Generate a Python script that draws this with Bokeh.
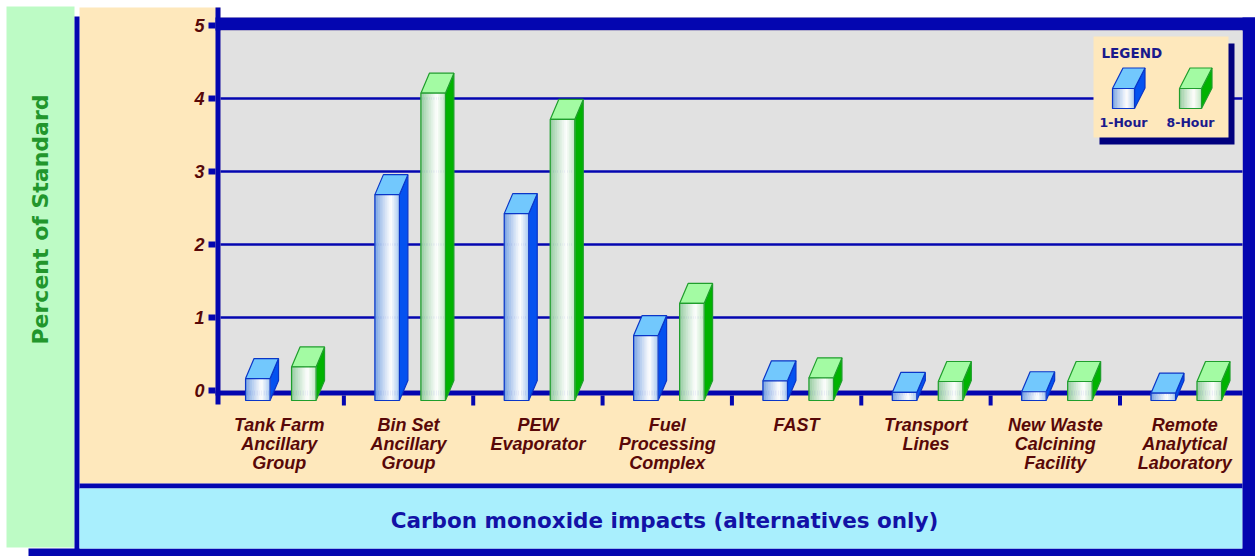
import math
from bokeh.plotting import figure
from bokeh.models import Range1d
from bokeh.core.properties import value
from bokeh.embed import file_html
from bokeh.resources import INLINE

# ---------------- data ----------------
categories = [
    "Tank Farm\nAncillary\nGroup",
    "Bin Set\nAncillary\nGroup",
    "PEW\nEvaporator",
    "Fuel\nProcessing\nComplex",
    "FAST",
    "Transport\nLines",
    "New Waste\nCalcining\nFacility",
    "Remote\nAnalytical\nLaboratory",
]
one_hour = [0.30, 2.82, 2.56, 0.89, 0.27, 0.11, 0.12, 0.10]
eight_hour = [0.46, 4.21, 3.85, 1.33, 0.31, 0.26, 0.26, 0.26]
series_names = ["1-Hour", "8-Hour"]
y_ticks = [0, 1, 2, 3, 4, 5]
y_title = "Percent of Standard"
x_title = "Carbon monoxide impacts (alternatives only)"
legend_title = "LEGEND"

# ---------------- canvas geometry (pixels, origin top-left) ----------------
W, H = 1255, 556
CAT0_PX, CAT_PX = 278.7, 129.35     # centre of first category, width of one category
ZERO_PX, UNIT_PX = 390.0, 73.0      # value-axis baseline, pixels per percent


def X(px):
    return (px - CAT0_PX) / CAT_PX


def Y(py):
    return (ZERO_PX - py) / UNIT_PX


NAVY = "#0406b0"
MAROON = "#580808"

p = figure(
    width=W, height=H,
    x_range=Range1d(X(0), X(W)), y_range=Range1d(Y(H), Y(0)),
    x_axis_type=None, y_axis_type=None,
    toolbar_location=None, output_backend="svg",
    min_border=0, outline_line_color=None,
    background_fill_color="white", border_fill_color="white",
)


def panel(l, t, r, b, color):
    p.quad(left=X(l), right=X(r), top=Y(t), bottom=Y(b),
           fill_color=color, line_color=None)


# ---------------- background panels ----------------
panel(6, 6, 74, 547, "#bdfbc5")          # side title panel
panel(79, 7, 1242, 483, "#fee8bc")       # chart panel
panel(220, 0, 1255, 17, "white")
panel(74, 16, 79, 556, NAVY)
panel(28, 548, 1255, 556, NAVY)
panel(79, 483, 1242, 488, NAVY)
panel(79, 488, 1242, 548, "#a9effd")     # bottom title panel
panel(1242, 17, 1255, 556, NAVY)
panel(215, 17, 1255, 30, NAVY)
panel(220, 30, 1242, 390, "#e1e1e1")     # plot wall

# grid lines
grid_vals = [v for v in y_ticks if 0 < v < max(y_ticks)]
p.segment(x0=[X(220)] * len(grid_vals), x1=[X(1242)] * len(grid_vals),
          y0=grid_vals, y1=grid_vals, line_color=NAVY, line_width=2.5)

# x axis line and category separators
panel(215, 390, 1242, 395, NAVY)
seps = [i + 0.5 for i in range(len(categories) - 1)]
p.rect(x=seps, y=[Y(400)] * len(seps), width=4, height=10,
       width_units="screen", height_units="screen",
       fill_color=NAVY, line_color=None)

# y axis line and ticks
panel(215, 7, 220, 404, NAVY)
p.rect(x=[X(211.5)] * len(y_ticks), y=y_ticks, width=7, height=6,
       width_units="screen", height_units="screen",
       fill_color=NAVY, line_color=None)

# ---------------- 3-D bars ----------------
BAR_W = 24.5 / CAT_PX
DX, DY = 8.5 / CAT_PX, 20.0 / UNIT_PX
OFFSETS = [-21.4 / CAT_PX, 24.6 / CAT_PX]

STYLES = [
    dict(edge="#0a36c8", top="#72c8fd", side="#0452f0", shade=(108, 155, 224), rim=(170, 202, 240)),
    dict(edge="#1f9e2c", top="#a3fba3", side="#00b300", shade=(140, 200, 152), rim=(192, 230, 196)),
]
N_STRIPS = 14


def mix(c, w):
    r, g, b = (int(round(ch + (255 - ch) * w)) for ch in c)
    return "#%02x%02x%02x" % (r, g, b)


def shade_at(style, t):
    peak = 0.66
    if t <= peak:
        w = (t / peak) ** 0.85
        return mix(style["shade"], w)
    w = 1 - (t - peak) / (1 - peak)
    return mix(style["rim"], w)


def draw_boxes(lefts, rights, bottoms, tops, dx, dy, style, lw=1.2):
    side_xs, side_ys, top_xs, top_ys = [], [], [], []
    sl, sr, sb, st, sc = [], [], [], [], []
    for l, r, b, t in zip(lefts, rights, bottoms, tops):
        side_xs.append([r, r + dx, r + dx, r])
        side_ys.append([b, b + dy, t + dy, t])
        top_xs.append([l, r, r + dx, l + dx])
        top_ys.append([t, t, t + dy, t + dy])
        step = (r - l) / N_STRIPS
        for k in range(N_STRIPS):
            col = shade_at(style, (k + 0.5) / N_STRIPS)
            sl.append(l + k * step)
            sr.append(l + (k + 1) * step)
            sb.append(b)
            st.append(t)
            sc.append(col)
    p.patches(side_xs, side_ys, fill_color=style["side"], line_color=style["edge"], line_width=lw)
    p.patches(top_xs, top_ys, fill_color=style["top"], line_color=style["edge"], line_width=lw)
    p.quad(left=sl, right=sr, bottom=sb, top=st, fill_color=sc, line_color=sc, line_width=0.6)
    p.quad(left=lefts, right=rights, bottom=bottoms, top=tops,
           fill_color=None, line_color=style["edge"], line_width=lw)


for vals, off, style in zip([one_hour, eight_hour], OFFSETS, STYLES):
    centers = [i + off for i in range(len(vals))]
    draw_boxes(
        [c - BAR_W / 2 for c in centers],
        [c + BAR_W / 2 for c in centers],
        [-DY / 2] * len(vals),
        [v - DY / 2 for v in vals],
        DX, DY, style,
    )

# ---------------- legend ----------------
panel(1099, 43, 1234, 144, "#00007e")
panel(1093, 36, 1228, 137, "#fee8bc")
for (fl, fr), style in zip([(1112, 1134), (1179, 1201)], STYLES):
    draw_boxes([X(fl)], [X(fr)], [Y(108)], [Y(88)],
               10.5 / CAT_PX, 20.5 / UNIT_PX, style, lw=1.2)

HAND = value("DejaVu Sans")
p.text(x=[X(1101)], y=[Y(52)], text=[legend_title], text_font=HAND,
       text_font_style="bold", text_font_size="13.5px", text_color="#1a1a8c",
       text_align="left", text_baseline="middle")
p.text(x=[X(1123), X(1190)], y=[Y(122)] * 2, text=series_names, text_font=HAND,
       text_font_style="bold", text_font_size="12.5px", text_color="#1a1a8c",
       text_align="center", text_baseline="middle")

# ---------------- labels ----------------
LABEL_FONT = value("Liberation Sans")
p.text(x=[X(204)] * len(y_ticks), y=y_ticks, text=[str(t) for t in y_ticks],
       text_font=LABEL_FONT, text_font_style="bold italic", text_font_size="18px",
       text_color=MAROON, text_align="right", text_baseline="middle")

p.text(x=list(range(len(categories))), y=[Y(414)] * len(categories), text=categories,
       text_font=LABEL_FONT, text_font_style="bold italic", text_font_size="18px",
       text_color=MAROON, text_align="center", text_baseline="top",
       text_line_height=0.95)

p.text(x=[X(40)], y=[Y(219)], text=[y_title], angle=math.pi / 2,
       text_font=HAND, text_font_style="bold", text_font_size="22px", text_color="#22962c",
       text_align="center", text_baseline="middle")

p.text(x=[X(664)], y=[Y(520)], text=[x_title],
       text_font=HAND, text_font_style="bold", text_font_size="21.5px", text_color="#1212a6",
       text_align="center", text_baseline="middle")

open("out.html", "w").write(file_html(p, INLINE))
